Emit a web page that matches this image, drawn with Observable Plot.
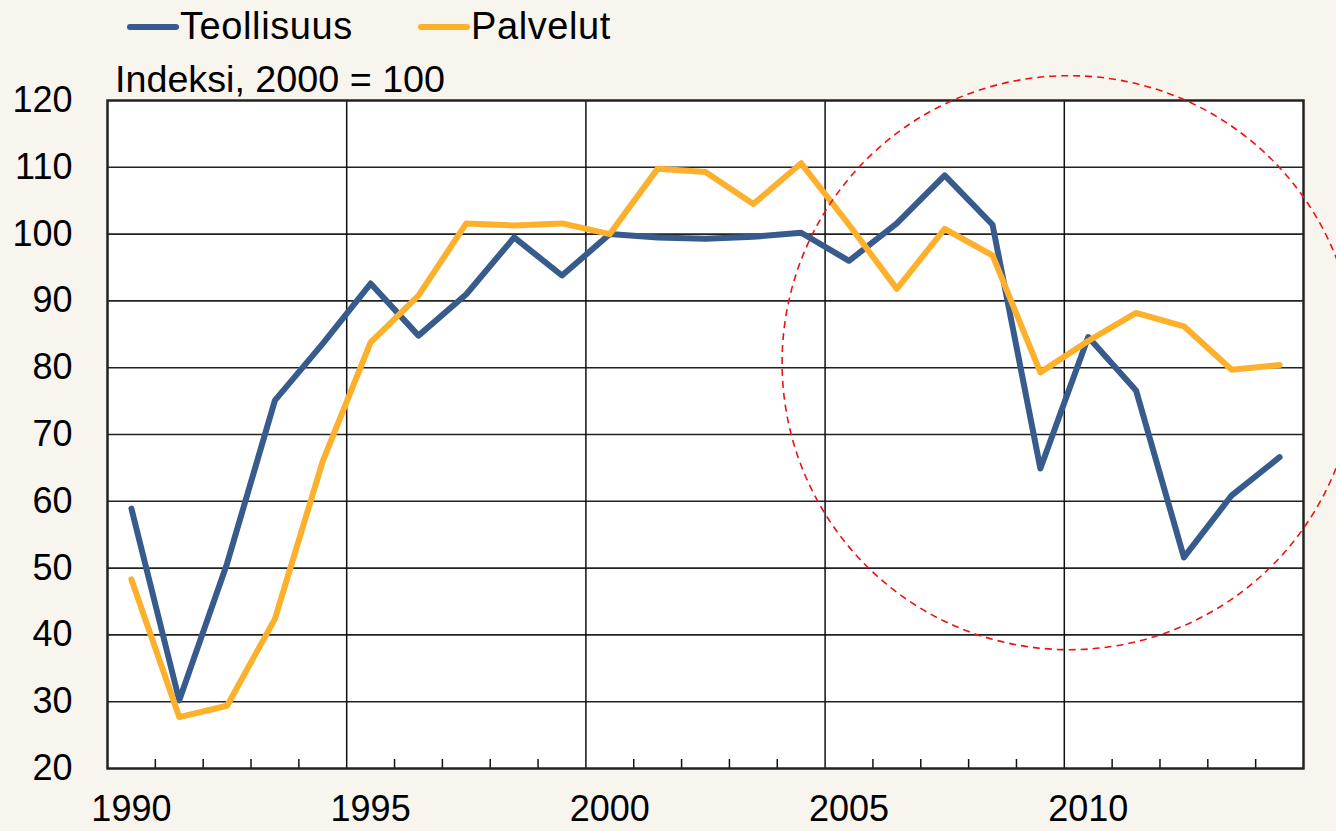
<!DOCTYPE html>
<html>
<head>
<meta charset="utf-8">
<script src="https://cdn.jsdelivr.net/npm/d3@7"></script>
<script src="https://cdn.jsdelivr.net/npm/@observablehq/plot@0.6"></script>
<style>
  html, body { margin: 0; padding: 0; background: #f8f4ee; }
  #wrap { position: relative; width: 1336px; height: 831px; overflow: hidden; }
  #legend { position: absolute; left: 0; top: 0; }
  svg text { font-family: "Liberation Sans", Arial, sans-serif; }
</style>
</head>
<body>
<div id="wrap">
  <div id="chart"></div>
  <svg id="legend" width="1336" height="100"></svg>
</div>
<script>
// ---- data ----
const years = [1990, 1991, 1992, 1993, 1994, 1995, 1996, 1997, 1998, 1999, 2000, 2001, 2002,
               2003, 2004, 2005, 2006, 2007, 2008, 2009, 2010, 2011, 2012, 2013, 2014];
const teollisuus = [58.9, 30.2, 50.7, 75.1, 83.6, 92.6, 84.8, 91.0, 99.5, 93.8, 100.0, 99.5, 99.3,
                    99.6, 100.2, 96.0, 101.6, 108.8, 101.4, 64.9, 84.6, 76.6, 51.6, 60.9, 66.6];
const palvelut = [48.3, 27.7, 29.4, 42.4, 66.0, 83.8, 90.8, 101.6, 101.3, 101.6, 100.0, 109.8, 109.3,
                  104.5, 110.6, 101.4, 91.8, 100.8, 96.8, 79.3, 84.0, 88.2, 86.2, 79.7, 80.4];
const seriesNames = ["Teollisuus", "Palvelut"];
const seriesColors = ["#375b8c", "#fdb02c"];
const xLabelYears = [1990, 1995, 2000, 2005, 2010];
const yTicks = [20, 30, 40, 50, 60, 70, 80, 90, 100, 110, 120];
const majorBoundaries = [1994.5, 1999.5, 2004.5, 2009.5];
const minorBoundaries = [1990.5, 1991.5, 1992.5, 1993.5, 1995.5, 1996.5, 1997.5, 1998.5,
                         2000.5, 2001.5, 2002.5, 2003.5, 2005.5, 2006.5, 2007.5, 2008.5,
                         2010.5, 2011.5, 2012.5, 2013.5];
const highlight = [{year: 2009.6, value: 80.75}];
const subtitle = "Indeksi, 2000 = 100";

const rows = [];
years.forEach((y, i) => {
  rows.push({year: y, value: teollisuus[i], series: seriesNames[0]});
});
years.forEach((y, i) => {
  rows.push({year: y, value: palvelut[i], series: seriesNames[1]});
});

const chart = Plot.plot({
  width: 1336,
  height: 831,
  marginLeft: 107,
  marginRight: 33,
  marginTop: 100,
  marginBottom: 63,
  style: {background: "transparent", fontFamily: "'Liberation Sans', Arial, sans-serif", fontSize: "36px", color: "#000", overflow: "visible"},
  x: {domain: [1989.5, 2014.5], ticks: xLabelYears, tickFormat: d => String(d), tickSize: 0, tickPadding: 27, label: null},
  y: {domain: [20, 120], ticks: yTicks, tickSize: 0, tickPadding: 35, label: null},
  color: {domain: seriesNames, range: seriesColors},
  marks: [
    Plot.frame({fill: "white", stroke: "none"}),
    Plot.ruleY(yTicks.slice(1, -1), {stroke: "#222", strokeWidth: 1.6}),
    Plot.ruleX(majorBoundaries, {stroke: "#111", strokeWidth: 1.5}),
    Plot.ruleX(minorBoundaries, {stroke: "#111", strokeWidth: 1.5, insetTop: 659}),
    Plot.line(rows, {x: "year", y: "value", z: "series", stroke: "series", strokeWidth: 6,
                     strokeLinejoin: "round", strokeLinecap: "round"}),
    Plot.frame({stroke: "#222", strokeWidth: 2.5}),
    Plot.dot(highlight, {x: "year", y: "value", r: 287, fill: "none", stroke: "#ee1111",
                         strokeWidth: 1.6, strokeDasharray: "7,5"})
  ]
});
document.getElementById("chart").appendChild(chart);

// ---- legend & subtitle ----
const lg = d3.select("#legend");
const legendItems = [
  {name: seriesNames[0], color: seriesColors[0], x: 127},
  {name: seriesNames[1], color: seriesColors[1], x: 418}
];
legendItems.forEach(it => {
  lg.append("line").attr("x1", it.x + 3).attr("x2", it.x + 49).attr("y1", 27).attr("y2", 27)
    .attr("stroke", it.color).attr("stroke-width", 6).attr("stroke-linecap", "round");
  lg.append("text").attr("x", it.x + 53).attr("y", 39).attr("font-size", 38)
    .attr("letter-spacing", 0.6).attr("fill", "#000").text(it.name);
});
lg.append("text").attr("x", 115).attr("y", 92).attr("font-size", 37.7).attr("fill", "#000").text(subtitle);
</script>
</body>
</html>
